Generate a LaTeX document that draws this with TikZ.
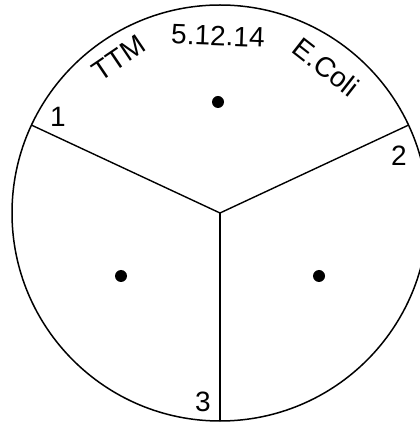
\documentclass[tikz,border=0pt]{standalone}
\usepackage{fontspec}
\setmainfont{Liberation Sans}
\usetikzlibrary{positioning}

\newcommand{\platefont}{\fontsize{28}{32}\selectfont}

\begin{document}
\begin{tikzpicture}[x=1pt, y=1pt, font=\platefont,
    rim/.style={line width=1.5pt},
    spoke/.style={line width=1.4pt},
    colony/.style={circle, fill=black, inner sep=0pt, minimum size=12pt},
    sector/.style={inner sep=0pt},
    rimtext/.style={inner sep=0pt}]
\useasboundingbox (0,0) rectangle (420,423);
\clip (0,0) rectangle (420,423);

% Plate outline
\coordinate (c) at (220,210);
\draw[rim] (c) circle[radius=208];

% Dividing lines (three sectors)
\coordinate (e1) at ([shift={(155:208)}]c);
\coordinate (e2) at ([shift={(25:208)}]c);
\coordinate (e3) at ([shift={(270:208)}]c);
\foreach \e in {e1,e2,e3} {
    \draw[spoke] (c) -- (\e);
}

% One colony dot per sector
\node[colony] (dtop) at (218,321) {};
\node[colony] (dleft) at (121,147) {};
\node[colony] (dright) at (319,147) {};

% Sector numbers
\node[sector] (n1) at (58,306) {1};
\node[sector] (n2) at (399,267) {2};
\node[sector] (n3) at (203,21) {3};

% Label written round the rim
\node[rimtext, rotate=34] (who) at (119,365) {TTM};
\node[rimtext, rotate=-2] (date) at (218,387) {5.12.14};
\node[rimtext, rotate=-38] (strain) at (326,356) {E.Coli};
\end{tikzpicture}
\end{document}
